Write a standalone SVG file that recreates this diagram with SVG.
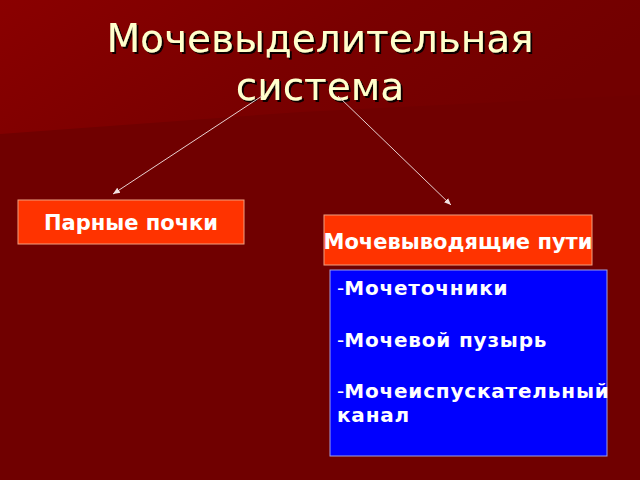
<svg xmlns="http://www.w3.org/2000/svg" width="640" height="480" viewBox="0 0 640 480">
<defs>
<linearGradient id="bgTop" x1="0" y1="0" x2="1" y2="0.3">
<stop offset="0" stop-color="#8A0000"/>
<stop offset="0.55" stop-color="#7A0000"/>
<stop offset="1" stop-color="#720000"/>
</linearGradient>
<marker id="arr" markerWidth="8" markerHeight="8" refX="7" refY="4" orient="auto" markerUnits="userSpaceOnUse">
<path d="M0,1 L7,4 L0,7 Z" fill="#F0E0E0"/>
</marker>
<filter id="sh" x="-5%" y="-20%" width="110%" height="140%">
<feDropShadow dx="2" dy="2" stdDeviation="0.6" flood-color="#000000" flood-opacity="0.9"/>
</filter>
</defs>
<style>
.title{font-family:"DejaVu Sans","Noto Sans",sans-serif;font-size:39px;fill:#FFFFCC;text-anchor:middle}
.lbl{font-family:"DejaVu Sans","Noto Sans",sans-serif;font-size:21px;font-weight:bold;fill:#FFFFFF;text-anchor:middle}
.item{font-family:"DejaVu Sans","Noto Sans",sans-serif;font-size:20px;font-weight:bold;fill:#FFFFFF;letter-spacing:0.8px}
.dash{font-weight:normal;letter-spacing:0}
.red{fill:#FF3300;stroke:#F0A080;stroke-width:1}
.blue{fill:#0000FF;stroke:#A0A0E0;stroke-width:1}
.conn{stroke:#E8D0D0;stroke-width:1;fill:none;marker-end:url(#arr)}
</style>
<rect x="0" y="0" width="640" height="480" fill="#700000"/>
<polygon points="0,0 640,0 640,95 300,112 0,134" fill="url(#bgTop)"/>
<g id="title" filter="url(#sh)">
<text class="title" x="320" y="52">Мочевыделительная</text>
<text class="title" x="320" y="100">система</text>
</g>
<g id="connectors">
<line class="conn" x1="262" y1="96" x2="113" y2="194"/>
<line class="conn" x1="338" y1="96" x2="451" y2="205"/>
</g>
<g id="node-kidneys">
<rect class="red" x="18" y="200" width="226" height="44"/>
<text class="lbl" x="131" y="230">Парные почки</text>
</g>
<g id="node-tracts">
<rect class="red" x="324" y="215" width="268" height="50"/>
<text class="lbl" x="458" y="249">Мочевыводящие пути</text>
</g>
<g id="node-list">
<rect class="blue" x="330" y="270" width="277" height="186"/>
<text class="item" x="337" y="295"><tspan class="dash">-</tspan>Мочеточники</text>
<text class="item" x="337" y="347"><tspan class="dash">-</tspan>Мочевой пузырь</text>
<text class="item" x="337" y="398"><tspan class="dash">-</tspan>Мочеиспускательный</text>
<text class="item" x="337" y="422">канал</text>
</g>
</svg>
